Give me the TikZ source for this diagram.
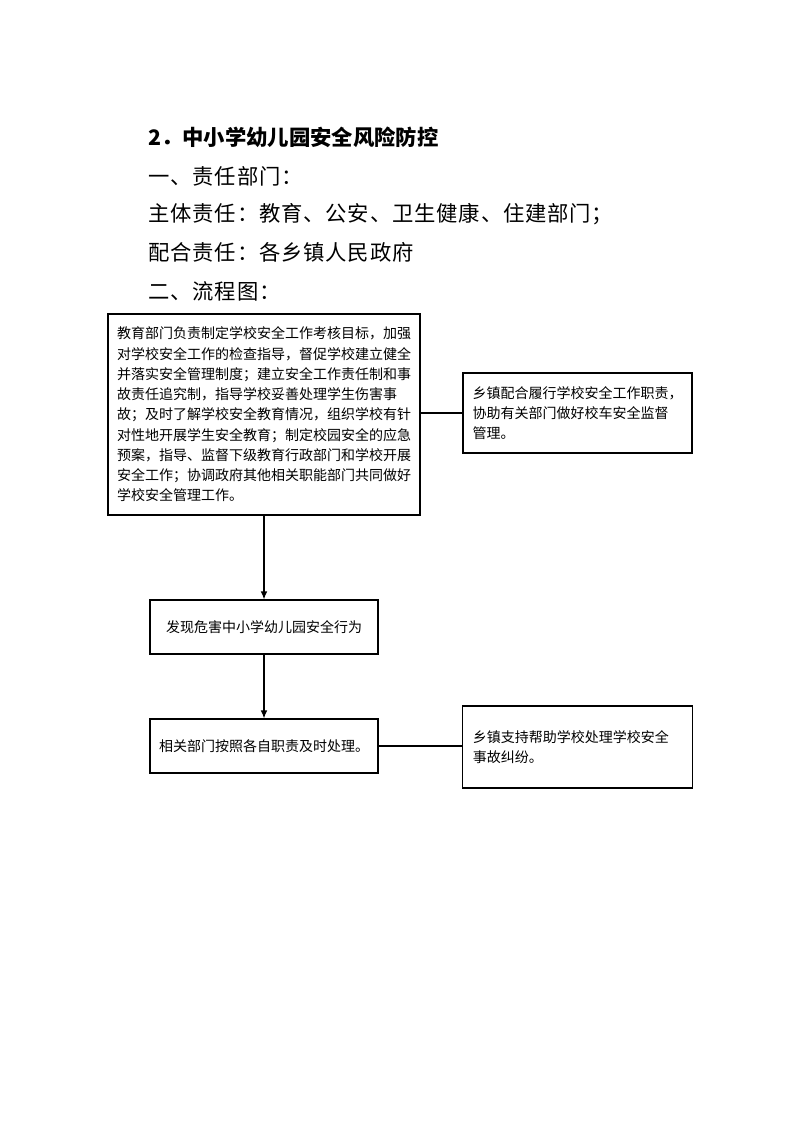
\documentclass[tikz,border=0pt]{standalone}
\usepackage{fontspec}
\setmainfont{Noto Sans CJK SC}
\usetikzlibrary{arrows.meta}

\begin{document}
\begin{tikzpicture}[x=0.75pt,y=-0.75pt,font=\fontsize{10.5pt}{15.2pt}\selectfont,
  box/.style={draw,line width=0.9pt,inner sep=0pt,align=left},
  link/.style={line width=0.8pt},
  arr/.style={line width=0.9pt,-{Latex[length=6pt,width=5pt]}}]
 \useasboundingbox (0,0) rectangle (794,1122);
 % heading lines
 \node[anchor=west,inner sep=0pt,font=\fontsize{16pt}{20pt}\selectfont\bfseries] (h1) at (148,137) {2．中小学幼儿园安全风险防控};
 \foreach \i/\y/\t in {2/176/{一、责任部门：},3/214/{主体责任：教育、公安、卫生健康、住建部门；},
   4/252/{配合责任：各乡镇人民政府},5/291/{二、流程图：}}{
  \node[anchor=west,inner sep=0pt,font=\fontsize{16pt}{20pt}\selectfont\addfontfeature{LetterSpace=4}] (h\i) at (148,\y) {\t};
 }
 % flow boxes
 \node[box,minimum width=234pt,minimum height=150.75pt] (duty) at (264,414.5) {教育部门负责制定学校安全工作考核目标，加强\\
  对学校安全工作的检查指导，督促学校建立健全\\
  并落实安全管理制度；建立安全工作责任制和事\\
  故责任追究制，指导学校妥善处理学生伤害事\\
  故；及时了解学校安全教育情况，组织学校有针\\
  对性地开展学生安全教育；制定校园安全的应急\\
  预案，指导、监督下级教育行政部门和学校开展\\
  安全工作；协调政府其他相关职能部门共同做好\\
  学校安全管理工作。};
 \node[box,minimum width=171.75pt,minimum height=60pt] (town) at (577.5,413) {乡镇配合履行学校安全工作职责，\\
  协助有关部门做好校车安全监督\\
  管理。};
 \node[box,minimum width=171pt,minimum height=40.5pt] (find) at (264,627) {发现危害中小学幼儿园安全行为};
 \node[box,minimum width=171pt,minimum height=40.5pt] (deal) at (264,746) {相关部门按照各自职责及时处理。};
 \node[box,minimum width=171.75pt,minimum height=61.5pt,text width=157pt,inner xsep=7.5pt] (help) at (577.5,747) {乡镇支持帮助学校处理学校安全\\
  事故纠纷。\\[9pt]};
 % connectors
 \draw[link] (town.west) -- (town.west -| duty.east);
 \draw[link] (deal.east) -- (deal.east -| help.west);
 \draw[arr] (duty.south) -- (find.north);
 \draw[arr] (find.south) -- (deal.north);
\end{tikzpicture}
\end{document}
